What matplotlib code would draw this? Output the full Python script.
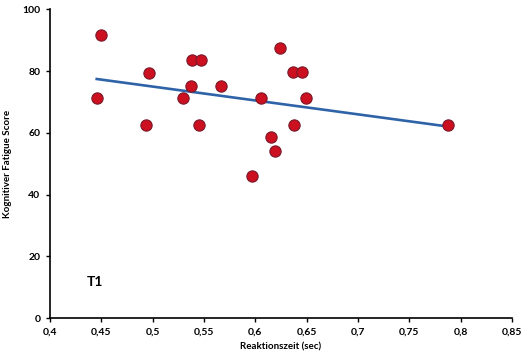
import matplotlib

matplotlib.use("Agg")
import matplotlib.pyplot as plt
import numpy as np

plt.rcParams["font.family"] = ["Lato", "DejaVu Sans"]

# Reaktionszeit (sec) und kognitiver Fatigue Score
rt = [0.4455, 0.4497, 0.4967, 0.4932, 0.5298, 0.5370, 0.5386, 0.5474, 0.5454, 0.5663,
      0.5970, 0.6058, 0.6243, 0.6367, 0.6455, 0.6497, 0.6377, 0.6153, 0.6195, 0.7880]
score = [71.1, 91.7, 79.5, 62.6, 71.1, 75.1, 83.5, 83.5, 62.6, 75.1,
         46.1, 71.1, 87.5, 79.6, 79.6, 71.1, 62.6, 58.6, 54.0, 62.6]

xticks = [0.4, 0.45, 0.5, 0.55, 0.6, 0.65, 0.7, 0.75, 0.8, 0.85]
xticklabels = ["0,4", "0,45", "0,5", "0,55", "0,6", "0,65", "0,7", "0,75", "0,8", "0,85"]
yticks = [0, 20, 40, 60, 80, 100]

fig = plt.figure(figsize=(5.28, 3.59), dpi=100)
ax = fig.add_axes([0.0947, 0.1142, 0.875, 0.86])

# lineare Trendlinie
k, d = np.polyfit(rt, score, 1)
xs = np.array([min(rt), max(rt)])
ax.plot(xs, k * xs + d, color="#2f63a8", lw=1.9, zorder=2)

ax.scatter(rt, score, s=66, color="#cc1020", edgecolors="#7a1a2a", linewidths=0.8, zorder=3)

ax.text(0.436, 11.7, "T1", fontsize=10, fontweight="bold", va="center")

ax.set_xlim(0.4, 0.85)
ax.set_ylim(0, 100)
ax.set_xticks(xticks)
ax.set_xticklabels(xticklabels)
ax.set_yticks(yticks)
for s in ["top", "right"]:
    ax.spines[s].set_visible(False)
for s in ["left", "bottom"]:
    ax.spines[s].set_linewidth(1.2)
ax.tick_params(direction="out", length=3, width=1, labelsize=7.5, pad=4)
for lab in ax.get_xticklabels() + ax.get_yticklabels():
    lab.set_fontweight("bold")

ax.set_xlabel("Reaktionszeit (sec)", fontsize=7, fontweight="bold", labelpad=4)
ax.set_ylabel("Kognitiver Fatigue Score", fontsize=7, fontweight="bold", labelpad=7)

fig.savefig("out.png", dpi=100)
